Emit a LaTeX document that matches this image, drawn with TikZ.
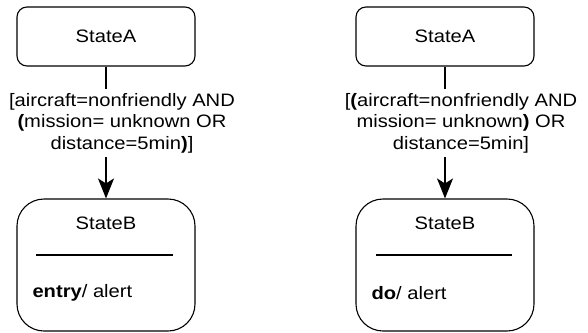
\documentclass[tikz,border=0pt]{standalone}
\usepackage{fontspec}
\setmainfont{Liberation Sans}[FakeStretch=1.12]
\usetikzlibrary{arrows.meta}
\begin{document}
\begin{tikzpicture}[x=1pt,y=-1pt,
  every node/.style={font=\fontsize{18}{21.5}\selectfont},
  stateA/.style={draw, line width=1.1pt, rounded corners=10pt, minimum width=178pt, minimum height=59pt, inner sep=0pt},
  stateB/.style={draw, line width=1.1pt, rounded corners=27pt, minimum width=178pt, minimum height=132pt, inner sep=0pt},
  guard/.style={align=center, fill=white, inner sep=4pt},
  trans/.style={line width=1.1pt, -{Stealth[length=20pt,width=16pt,inset=5pt]}},
  sepline/.style={line width=1.1pt}]
\useasboundingbox (0,0) rectangle (588,332);
% left
\node[stateA] (a1) at (106,36.5) {StateA};
\node[stateB] (b1) at (106,265) {};
\node (t1) at (106,223) {StateB};
\coordinate (s1l) at (36,255);
\coordinate (s1r) at (173,255);
\draw[sepline] (s1l) -- (s1r);
\node[anchor=west] (e1) at (29,293) {\textbf{entry}/ alert};
\draw[trans] (a1) -- (b1);
\node[guard] (g1) at (122,123) {[aircraft=nonfriendly AND\\{\bfseries(}mission= unknown OR\\distance=5min{\bfseries)}]};
% right
\node[stateA] (a2) at (445,36.5) {StateA};
\node[stateB] (b2) at (445,265) {};
\node (t2) at (445,223) {StateB};
\coordinate (s2l) at (376,255);
\coordinate (s2r) at (512,255);
\draw[sepline] (s2l) -- (s2r);
\node[anchor=west] (e2) at (368,293) {\textbf{do}/ alert};
\draw[trans] (a2) -- (b2);
\node[guard] (g2) at (461,123) {[{\bfseries(}aircraft=nonfriendly AND\\mission= unknown{\bfseries)} OR\\distance=5min]};
\end{tikzpicture}
\end{document}
